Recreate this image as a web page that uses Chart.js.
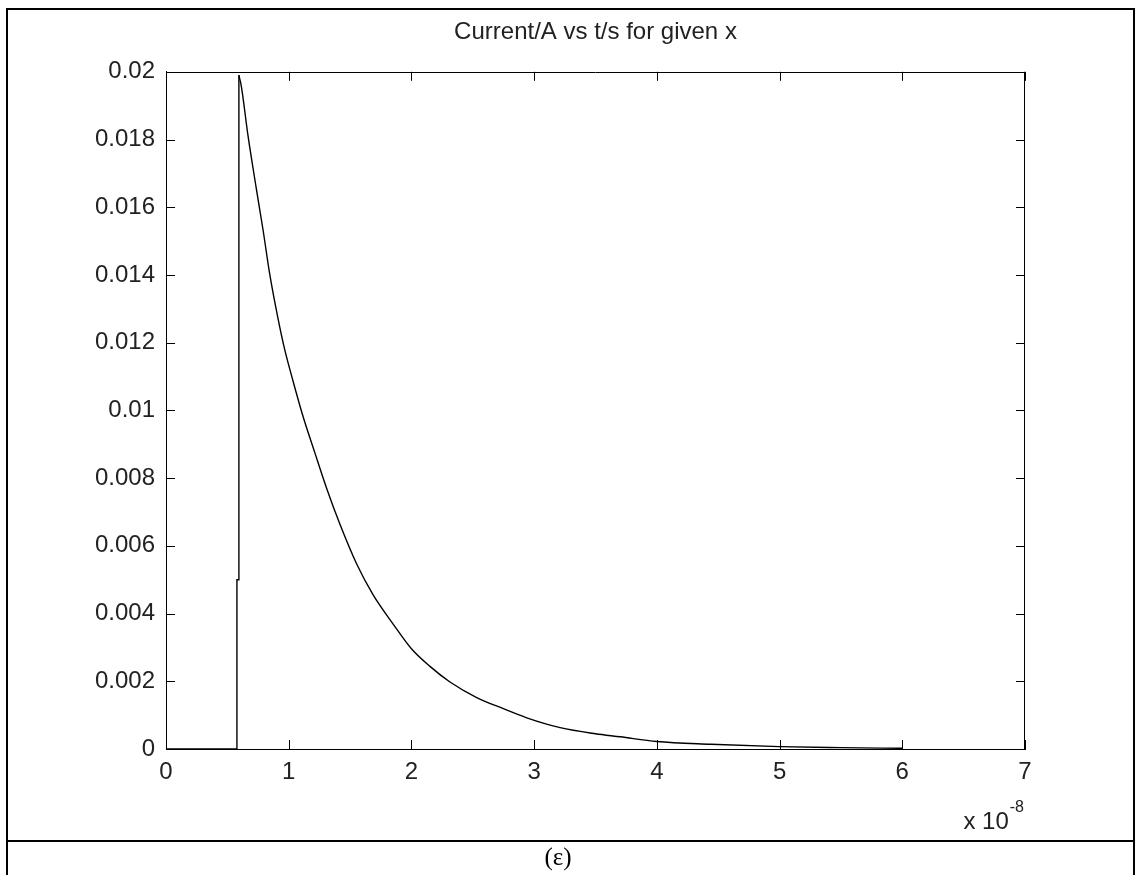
<!DOCTYPE html>
<html>
<head>
<meta charset="utf-8">
<script src="https://cdn.jsdelivr.net/npm/chart.js@4/dist/chart.umd.min.js"></script>
<style>
    html, body { margin: 0; padding: 0; background: #fff; }
    #page { position: relative; width: 1136px; height: 875px; overflow: hidden; }
    #plot { position: absolute; left: 0; top: 0; }
    .rule { position: absolute; background: #000; }
    #caption {
        position: absolute; left: 0; width: 1116px; top: 843px;
        text-align: center; font: 25px "Liberation Serif", "Times New Roman", serif; color: #000;
    }
</style>
</head>
<body>
<div id="page">
    <canvas id="plot" width="1136" height="841"></canvas>
    <div class="rule" style="left:6px;top:8px;width:1129px;height:2px;"></div>
    <div class="rule" style="left:6px;top:8px;width:2px;height:867px;"></div>
    <div class="rule" style="left:1133px;top:8px;width:2px;height:867px;"></div>
    <div class="rule" style="left:6px;top:840px;width:1129px;height:2px;"></div>
    <div id="caption">(ε)</div>
</div>
<script>
// time in units of 1e-8 s, current in A
var timeValues = [0, 0.578, 0.578, 0.594, 0.594, 0.614, 0.668, 0.736, 0.790, 0.845, 0.913, 0.967,
    1.035, 1.117, 1.212, 1.308, 1.416, 1.553, 1.688, 1.851, 2.000, 2.151, 2.314, 2.532,
    2.749, 2.940, 3.212, 3.500, 3.702, 4.000, 4.440, 5.000, 5.500, 6.000];
var currentValues = [0, 0, 0.005, 0.005, 0.0199, 0.01957, 0.01812, 0.01655, 0.01535, 0.01403, 0.01271, 0.0118,
    0.01087, 0.00982, 0.00876, 0.00771, 0.00665, 0.00547, 0.00455, 0.00369, 0.00296, 0.00244, 0.00198, 0.00152,
    0.00119, 0.00092, 0.00063, 0.00045, 0.00036, 0.00022, 0.00014, 0.00007, 0.00004, 0.00002];
var xTicks = [0, 1, 2, 3, 4, 5, 6, 7];
var yTicks = [0, 0.002, 0.004, 0.006, 0.008, 0.01, 0.012, 0.014, 0.016, 0.018, 0.02];

var titleText = "Current/A vs t/s for given x";
var peakIndex = 4; // switch-on steps before this, smooth decay after
var labelFont = { family: "Arial, 'Liberation Sans', sans-serif", size: 24, weight: "normal" };

// matlab style box with inward tick marks
var boxTicks = {
    id: "boxTicks",
    afterDatasetsDraw(chart) {
        var ctx = chart.ctx;
        var a = chart.chartArea;
        var len = 9;
        ctx.save();
        ctx.strokeStyle = "#000";
        ctx.lineWidth = 1;
        ctx.beginPath();
        ctx.moveTo(a.left, Math.round(a.top) + 0.5);
        ctx.lineTo(a.right, Math.round(a.top) + 0.5);
        ctx.moveTo(Math.round(a.right) - 0.5, a.top);
        ctx.lineTo(Math.round(a.right) - 0.5, a.bottom);
        chart.scales.x.ticks.forEach(t => {
            var px = Math.round(chart.scales.x.getPixelForValue(t.value)) + 0.5;
            ctx.moveTo(px, a.bottom);
            ctx.lineTo(px, a.bottom - len);
            ctx.moveTo(px, a.top);
            ctx.lineTo(px, a.top + len);
        });
        chart.scales.y.ticks.forEach(t => {
            var py = Math.round(chart.scales.y.getPixelForValue(t.value)) + 0.5;
            ctx.moveTo(a.left, py);
            ctx.lineTo(a.left + len, py);
            ctx.moveTo(a.right, py);
            ctx.lineTo(a.right - len, py);
        });
        ctx.stroke();
        ctx.restore();
    }
};

// "x 10^-8" exponent label under the x axis
var expLabel = {
    id: "expLabel",
    afterDraw(chart) {
        var ctx = chart.ctx;
        var a = chart.chartArea;
        ctx.save();
        ctx.fillStyle = "#222";
        ctx.textBaseline = "alphabetic";
        ctx.font = "16px Arial, 'Liberation Sans', sans-serif";
        var supW = ctx.measureText("-8").width;
        var supX = a.right - supW - 1;
        ctx.fillText("-8", supX, a.bottom + 63);
        ctx.font = "24px Arial, 'Liberation Sans', sans-serif";
        ctx.textAlign = "right";
        ctx.fillText("x 10", supX - 1, a.bottom + 80);
        ctx.restore();
    }
};

var points = timeValues.map((t, i) => ({ x: t, y: currentValues[i] }));

new Chart(document.getElementById("plot"), {
    type: "scatter",
    data: {
        datasets: [{
            data: points.slice(0, peakIndex + 1),
            showLine: true,
            borderColor: "#000",
            borderWidth: 1.4,
            pointRadius: 0,
            tension: 0
        }, {
            data: points.slice(peakIndex),
            showLine: true,
            borderColor: "#000",
            borderWidth: 1.4,
            pointRadius: 0,
            cubicInterpolationMode: "monotone"
        }]
    },
    options: {
        responsive: false,
        animation: false,
        events: [],
        layout: { padding: { left: 0, right: 111, top: 0, bottom: 0 } },
        plugins: {
            legend: { display: false },
            tooltip: { enabled: false },
            title: {
                display: true,
                text: titleText,
                fullSize: false,
                color: "#222",
                font: { family: "Arial, 'Liberation Sans', sans-serif", size: 24, weight: "normal" },
                padding: { top: 18, bottom: 25 }
            }
        },
        scales: {
            x: {
                type: "linear",
                min: 0,
                max: 7,
                afterBuildTicks: s => { s.ticks = xTicks.map(v => ({ value: v })); },
                afterFit: s => { s.height = 92; },
                grid: { display: false, drawTicks: false },
                border: { display: true, color: "#000", width: 1 },
                ticks: { color: "#222", font: labelFont, padding: 9, maxRotation: 0, callback: v => String(v) }
            },
            y: {
                type: "linear",
                min: 0,
                max: 0.02,
                afterBuildTicks: s => { s.ticks = yTicks.map(v => ({ value: v })); },
                afterFit: s => { s.width = 166; },
                grid: { display: false, drawTicks: false },
                border: { display: true, color: "#000", width: 1 },
                ticks: {
                    color: "#222", font: labelFont, padding: 11,
                    callback: v => v === 0 ? "0" : String(+v.toFixed(3))
                }
            }
        }
    },
    plugins: [boxTicks, expLabel]
});
</script>
</body>
</html>
